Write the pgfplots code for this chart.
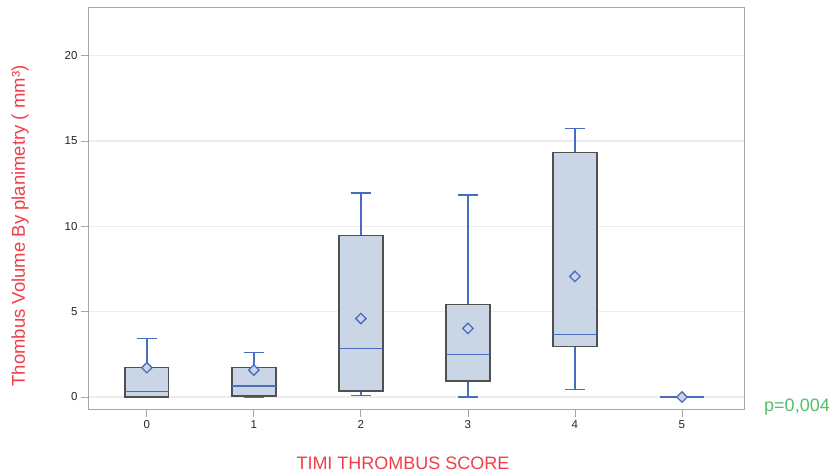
\documentclass[border=0pt]{standalone}
\usepackage{fontspec}
\setmainfont{Liberation Sans}
\usepackage{pgfplots}
\pgfplotsset{compat=1.18}
\usepgfplotslibrary{statistics}
\definecolor{boxfill}{RGB}{202,213,230}
\definecolor{boxline}{RGB}{80,80,80}
\definecolor{wblue}{RGB}{72,108,192}
\definecolor{lred}{RGB}{240,62,72}
\definecolor{lgreen}{RGB}{82,192,102}
\pgfdeclareplotmark{sdiamond}{%
  \pgfsetfillcolor{boxfill}\pgfsetstrokecolor{wblue}\pgfsetlinewidth{1.3bp}\pgfsetdash{}{0pt}%
  \pgfpathmoveto{\pgfqpoint{0pt}{\pgfplotmarksize}}%
  \pgfpathlineto{\pgfqpoint{\pgfplotmarksize}{0pt}}%
  \pgfpathlineto{\pgfqpoint{0pt}{-\pgfplotmarksize}}%
  \pgfpathlineto{\pgfqpoint{-\pgfplotmarksize}{0pt}}%
  \pgfpathclose\pgfusepathqfillstroke}
\begin{document}
\begin{tikzpicture}
\path[use as bounding box] (0,0) rectangle (839bp,476bp);
\begin{axis}[
  at={(88bp,66bp)}, anchor=south west, scale only axis,
  width=656bp, height=402bp,
  xmin=-0.55, xmax=5.58, ymin=-0.76, ymax=22.8,
  xtick={0,1,2,3,4,5}, ytick={0,5,10,15,20},
  xtick pos=bottom, ytick pos=left,
  tick align=outside, major tick length=7bp,
  tick style={color=black!35, line width=0.8bp},
  ymajorgrids, grid style={color=black!7, line width=1.2bp},
  axis line style={color=black!35, line width=1bp},
  ticklabel style={font=\fontsize{11.5bp}{13bp}\selectfont, text=black!85},
  /pgf/number format/assume math mode=true,
  boxplot/draw direction=y,
  boxplot/box extend=0.41,
  boxplot/whisker extend=0.19,
  boxplot/every box/.style={draw=boxline, fill=boxfill, line width=1.4bp},
  boxplot/every whisker/.style={draw=wblue, line width=1.4bp},
  boxplot/every median/.style={draw=wblue, line width=1.3bp},
  boxplot/every average/.style={/tikz/mark=sdiamond, /tikz/mark size=5.2bp},
]
\addplot[draw=wblue, boxplot prepared={draw position=0, lower whisker=0, lower quartile=0, median=0.33, upper quartile=1.74, upper whisker=3.43, average=1.72}] coordinates {};
\addplot[draw=wblue, boxplot prepared={draw position=1, lower whisker=0, lower quartile=0.06, median=0.64, upper quartile=1.72, upper whisker=2.6, average=1.58}] coordinates {};
\addplot[draw=wblue, boxplot prepared={draw position=2, lower whisker=0.08, lower quartile=0.35, median=2.85, upper quartile=9.48, upper whisker=11.96, average=4.6}] coordinates {};
\addplot[draw=wblue, boxplot prepared={draw position=3, lower whisker=0, lower quartile=0.94, median=2.5, upper quartile=5.43, upper whisker=11.83, average=4.02}] coordinates {};
\addplot[draw=wblue, boxplot prepared={draw position=4, lower whisker=0.45, lower quartile=2.95, median=3.67, upper quartile=14.33, upper whisker=15.73, average=7.07}] coordinates {};
\addplot[draw=wblue, boxplot prepared={draw position=5, lower whisker=0, lower quartile=0, median=0, upper quartile=0, upper whisker=0, average=0},
  boxplot/every box/.style={draw=wblue!75!black, fill=boxfill, line width=1.8bp}] coordinates {};
\end{axis}
\node[rotate=90, text=lred, font=\fontsize{18.5bp}{20bp}\selectfont] at (20bp,250bp) {Thombus Volume By planimetry ( mm³)};
\node[text=lred, font=\fontsize{18bp}{19bp}\selectfont] at (403bp,13bp) {TIMI THROMBUS SCORE};
\node[text=lgreen, font=\fontsize{18bp}{19bp}\selectfont] at (797bp,69bp) {p=0,004};
\end{tikzpicture}
\end{document}
